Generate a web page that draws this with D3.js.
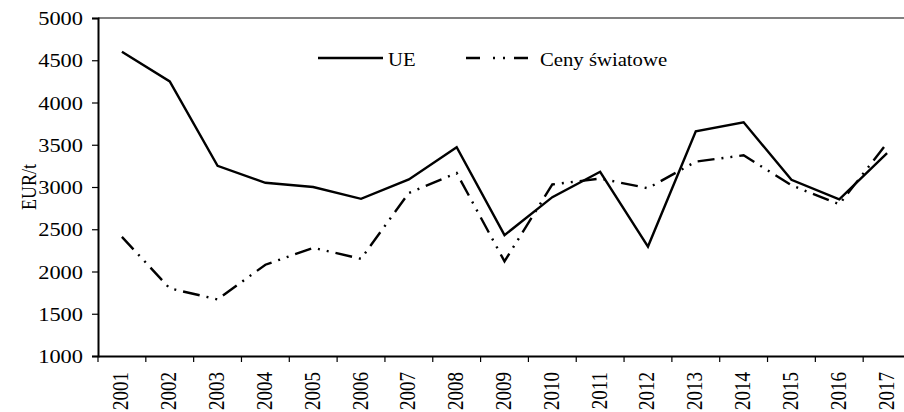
<!DOCTYPE html>
<html>
<head>
<meta charset="utf-8">
<script src="https://cdn.jsdelivr.net/npm/d3@7"></script>
<style>
  body { margin: 0; background: #fff; }
  svg text { font-family: "Times New Roman", "Liberation Serif", "DejaVu Serif", serif !important; fill: #000; }
</style>
</head>
<body>
<svg id="chart" width="904" height="412"></svg>
<script>
// data
var years = ['2001','2002','2003','2004','2005','2006','2007','2008','2009','2010','2011','2012','2013','2014','2015','2016','2017'];
var ue = [4600, 4250, 3250, 3050, 3000, 2860, 3090, 3470, 2430, 2880, 3180, 2295, 3660, 3765, 3085, 2855, 3400];
var world = [2410, 1800, 1670, 2080, 2280, 2150, 2930, 3165, 2120, 3030, 3100, 2985, 3300, 3375, 3020, 2795, 3520];
var yTicks = [1000, 1500, 2000, 2500, 3000, 3500, 4000, 4500, 5000];
var seriesNames = ['UE', 'Ceny światowe'];

(function(){
	var svg = d3.select('#chart');
	var left = 98, right = 911, top = 18, bottom = 356;
	var sx = 1.18; // text in the picture is a bit wider than tall
	var serif = '"Times New Roman", "Liberation Serif", serif';

	var x = d3.scaleBand().domain(years).range([left, right]);
	var y = d3.scaleLinear().domain([1000, 5000]).range([bottom, top]);

	// top border (grey)
	svg.append('line')
		.attr('x1', left).attr('x2', right)
		.attr('y1', top).attr('y2', top)
		.attr('stroke', '#808080').attr('stroke-width', 2);

	// y axis
	var yAxis = svg.append('g')
		.attr('transform', 'translate(' + left + ',0)')
		.call(d3.axisLeft(y).tickValues(yTicks).tickSize(6).tickPadding(0).tickFormat(d3.format('d')));
	yAxis.attr('font-family', serif);
	yAxis.select('.domain').attr('stroke', '#000').attr('stroke-width', 2);
	yAxis.selectAll('.tick line').attr('stroke', '#000').attr('stroke-width', 1.2);
	yAxis.selectAll('.tick text')
		.attr('x', null).attr('dy', null)
		.attr('transform', 'translate(-15,6.5) scale(' + sx + ',1)')
		.style('font-size', '19px');

	// x axis: labels at band centres, ticks on band edges
	var xAxis = svg.append('g')
		.attr('transform', 'translate(0,' + bottom + ')')
		.call(d3.axisBottom(x).tickSize(0).tickPadding(0));
	xAxis.attr('font-family', serif);
	xAxis.select('.domain').attr('stroke', '#000').attr('stroke-width', 2);
	xAxis.selectAll('.tick text')
		.attr('y', null).attr('dy', null)
		.attr('text-anchor', 'end')
		.attr('transform', 'translate(6.5,16) scale(' + sx + ',1) rotate(-90)')
		.style('font-size', '19px');

	var edges = years.map(function(d){ return x(d); }).concat([right]);
	svg.append('g').selectAll('line')
		.data(edges)
		.enter().append('line')
		.attr('x1', function(d){ return d; }).attr('x2', function(d){ return d; })
		.attr('y1', bottom).attr('y2', bottom + 6)
		.attr('stroke', '#000').attr('stroke-width', 1.2);

	// y label
	svg.append('text')
		.attr('transform', 'translate(36,' + ((top + bottom) / 2) + ') scale(' + sx + ',1) rotate(-90)')
		.attr('text-anchor', 'middle')
		.style('font-size', '18px')
		.text('EUR/t');

	var line = d3.line()
		.x(function(d, i){ return x(years[i]) + x.bandwidth() / 2; })
		.y(function(d){ return y(d); });

	var dash = '17,7,2,7,2,7';

	svg.append('path')
		.datum(ue)
		.attr('d', line)
		.attr('fill', 'none')
		.attr('stroke', '#000')
		.attr('stroke-width', 2.4)
		.attr('stroke-linejoin', 'miter');

	svg.append('path')
		.datum(world)
		.attr('d', line)
		.attr('fill', 'none')
		.attr('stroke', '#000')
		.attr('stroke-width', 2.4)
		.attr('stroke-dasharray', dash);

	// legend
	var legend = svg.append('g');
	var items = [
		{ name: seriesNames[0], x1: 318, x2: 383, tx: 388, dash: null },
		{ name: seriesNames[1], x1: 466, x2: 532, tx: 540, dash: '14,13,2,8,2,9' }
	];
	items.forEach(function(it){
		legend.append('line')
			.attr('x1', it.x1).attr('x2', it.x2)
			.attr('y1', 58).attr('y2', 58)
			.attr('stroke', '#000').attr('stroke-width', 2.4)
			.attr('stroke-dasharray', it.dash);
		legend.append('text')
			.attr('transform', 'translate(' + it.tx + ',66) scale(1.12,1)')
			.style('font-size', '18.5px')
			.text(it.name);
	});
}());
</script>
</body>
</html>
